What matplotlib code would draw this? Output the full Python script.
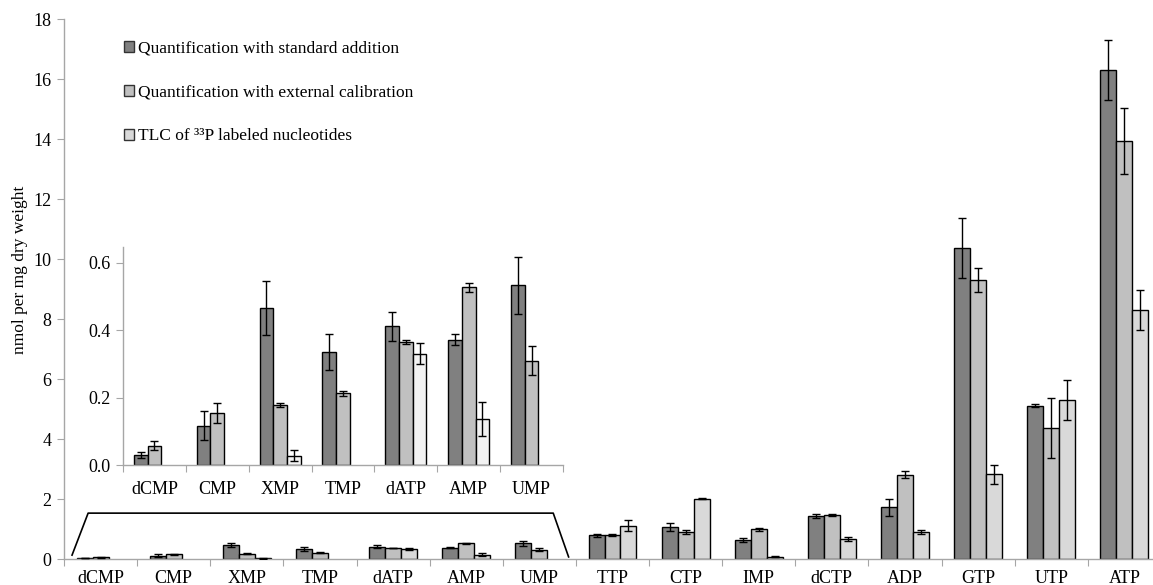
import numpy as np
import matplotlib
matplotlib.use("Agg")
import matplotlib.pyplot as plt
from matplotlib.patches import Patch

plt.rcParams['font.family'] = ['Liberation Serif', 'DejaVu Serif']

# nucleotide pools, nmol per mg dry weight (mean and error)
nucleotides = ['dCMP', 'CMP', 'XMP', 'TMP', 'dATP', 'AMP', 'UMP',
               'TTP', 'CTP', 'IMP', 'dCTP', 'ADP', 'GTP', 'UTP', 'ATP']
std_add = [0.031, 0.117, 0.467, 0.335, 0.411, 0.372, 0.533,
           0.80, 1.06, 0.63, 1.43, 1.72, 10.36, 5.11, 16.3]
std_add_err = [0.008, 0.043, 0.080, 0.054, 0.042, 0.016, 0.084,
               0.05, 0.13, 0.07, 0.07, 0.28, 1.0, 0.05, 1.0]
ext_cal = [0.058, 0.155, 0.179, 0.213, 0.365, 0.527, 0.310,
           0.79, 0.91, 0.99, 1.46, 2.81, 9.3, 4.36, 13.93]
ext_cal_err = [0.013, 0.029, 0.006, 0.008, 0.005, 0.013, 0.043,
               0.03, 0.06, 0.06, 0.03, 0.12, 0.4, 1.0, 1.1]
tlc = [np.nan, np.nan, 0.028, np.nan, 0.331, 0.137, np.nan,
       1.11, 2.01, 0.08, 0.67, 0.89, 2.83, 5.3, 8.3]
tlc_err = [np.nan, np.nan, 0.016, np.nan, 0.030, 0.050, np.nan,
           0.18, 0.02, 0.02, 0.08, 0.07, 0.32, 0.66, 0.68]

series_names = ['Quantification with standard addition',
                'Quantification with external calibration',
                'TLC of \u00b3\u00b3P labeled nucleotides']
n_small = 7   # low-abundance ones shown again in the inset

dark, mid, light, lighter = '#808080', '#c0c0c0', '#d9d9d9', '#f2f2f2'
spine_col = '#a6a6a6'
w = 0.218
fs = 13


def draw_bars(ax, idx, colors):
    x = np.arange(len(idx))
    vals = [std_add, ext_cal, tlc]
    errs = [std_add_err, ext_cal_err, tlc_err]
    for k in range(3):
        v = np.array(vals[k])[idx]
        e = np.array(errs[k])[idx]
        pos = x + (k - 1) * w
        ax.bar(pos, v, width=w, color=colors[k], edgecolor='black',
               linewidth=1.0, zorder=2)
        ax.errorbar(pos, v, yerr=e, fmt='none', ecolor='black',
                    elinewidth=1.0, capsize=3, capthick=1.0, zorder=3)


def style_axis(ax, n, labels, pad=8):
    ax.set_xlim(-0.5, n - 0.5)
    for s in ['top', 'right']:
        ax.spines[s].set_visible(False)
    for s in ['left', 'bottom']:
        ax.spines[s].set_color(spine_col)
        ax.spines[s].set_linewidth(1.0)
    ax.set_xticks(np.arange(n + 1) - 0.5)
    ax.set_xticklabels([])
    ax.set_xticks(np.arange(n), minor=True)
    ax.set_xticklabels(labels, minor=True, fontsize=fs)
    ax.tick_params(axis='x', which='major', length=5, color=spine_col)
    ax.tick_params(axis='x', which='minor', length=0, pad=pad)
    ax.tick_params(axis='y', length=5, color=spine_col, labelsize=fs, pad=4)


fig = plt.figure(figsize=(11.53, 5.85), dpi=100)
ax = fig.add_axes([0.0555, 0.0444, 0.9514, 0.923])
draw_bars(ax, np.arange(len(nucleotides)), [dark, mid, light])
style_axis(ax, len(nucleotides), nucleotides)
ax.set_ylim(0, 18)
ax.set_yticks(np.arange(0, 19, 2))
ax.set_ylabel('nmol per mg dry weight', fontsize=12.5)
ax.yaxis.set_label_coords(-0.033, 0.535)

# bracket marking the range enlarged in the inset
ax.plot([-0.39, -0.17, n_small - 1 + 0.19, n_small - 1 + 0.40],
        [0.13, 1.53, 1.53, 0.07], color='black', lw=1.2, zorder=4)

handles = [Patch(facecolor=c, edgecolor='#333333', linewidth=1.0)
           for c in [dark, mid, light]]
fig.legend(handles, series_names, loc='upper left',
           bbox_to_anchor=(0.094, 0.958), frameon=False, fontsize=12.5,
           handlelength=0.6, handleheight=0.6, handletextpad=0.2,
           labelspacing=1.62)

# inset with the small pools
axi = fig.add_axes([0.1067, 0.2046, 0.3816, 0.373])
draw_bars(axi, np.arange(n_small), [dark, mid, lighter])
style_axis(axi, n_small, nucleotides[:n_small], pad=11)
axi.set_ylim(0, 0.646)
axi.set_yticks([0.0, 0.2, 0.4, 0.6])
axi.set_yticklabels(['0.0', '0.2', '0.4', '0.6'])
axi.patch.set_alpha(0)

fig.savefig('out.png', dpi=100)
